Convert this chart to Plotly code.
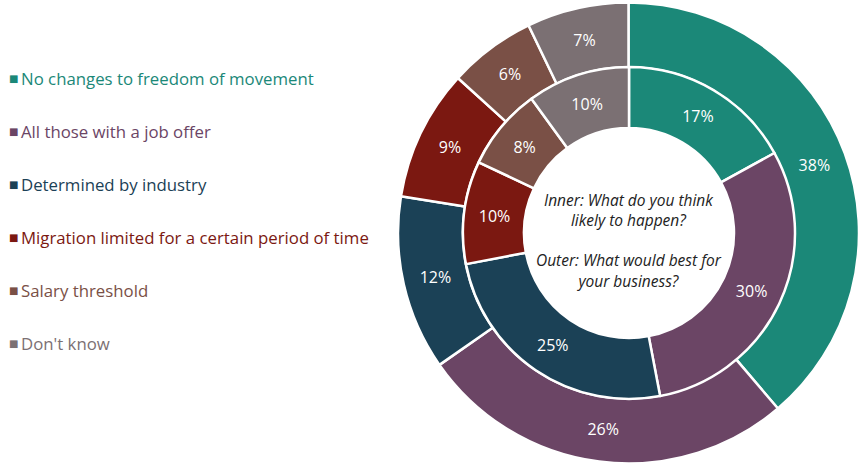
import plotly.graph_objects as go

categories = ["No changes to freedom of movement", "All those with a job offer",
              "Determined by industry", "Migration limited for a certain period of time",
              "Salary threshold", "Don't know"]
inner_values = [17, 30, 25, 10, 8, 10]   # what do you think likely to happen
outer_values = [38, 26, 12, 9, 6, 7]     # what would be best for your business
colors = ["#1b8878", "#6b4565", "#1b4156", "#7b1811", "#7a5046", "#7b7073"]

W, H = 859, 466
cx, cy = 629, 233          # centre of the rings, pixels
r_out, r_mid, r_hole = 231, 166, 105

font = "Open Sans"

def dom(r):
    return dict(x=[(cx - r) / W, min((cx + r) / W, 1)],
                y=[(H - cy - r) / H, (H - cy + r) / H])

fig = go.Figure()
fig.add_trace(go.Pie(
    labels=categories, values=outer_values, hole=r_mid / r_out,
    domain=dom(r_out), sort=False, direction="clockwise", rotation=0,
    marker=dict(colors=colors, line=dict(color="white", width=2.5)),
    texttemplate="%{value}%", textposition="inside", insidetextorientation="horizontal",
    textfont=dict(color="white", size=16, family=font), showlegend=False,
))
fig.add_trace(go.Pie(
    labels=categories, values=inner_values, hole=r_hole / r_mid,
    domain=dom(r_mid), sort=False, direction="clockwise", rotation=0,
    marker=dict(colors=colors, line=dict(color="white", width=2.5)),
    texttemplate="%{value}%", textposition="inside", insidetextorientation="horizontal",
    textfont=dict(color="white", size=16, family=font), showlegend=False,
))

# centre caption
fig.add_annotation(
    x=cx / W, y=1 - 240 / H, xref="paper", yref="paper", showarrow=False,
    xanchor="center", yanchor="middle",
    text="<i>Inner: What do you think<br>likely to happen?<br><br>Outer: What would best for<br>your business?</i>",
    font=dict(size=15.5, color="#222222", family=font), align="center",
)

# legend drawn by hand so every label takes its series colour
for i, (name, c) in enumerate(zip(categories, colors)):
    y = 1 - (79 + i * 52.8) / H
    fig.add_annotation(x=7 / W, y=y, xref="paper", yref="paper", showarrow=False,
                       xanchor="left", yanchor="middle", text="■",
                       font=dict(size=10, color=c, family="DejaVu Sans"))
    fig.add_annotation(x=19 / W, y=y, xref="paper", yref="paper", showarrow=False,
                       xanchor="left", yanchor="middle", text=name,
                       font=dict(size=16.8, color=c, family=font))

fig.update_layout(
    width=W, height=H, margin=dict(l=0, r=0, t=0, b=0),
    paper_bgcolor="white", plot_bgcolor="white",
)
fig.write_html("out.html", config={"displayModeBar": False},
               post_script="document.body.style.margin='0';")
